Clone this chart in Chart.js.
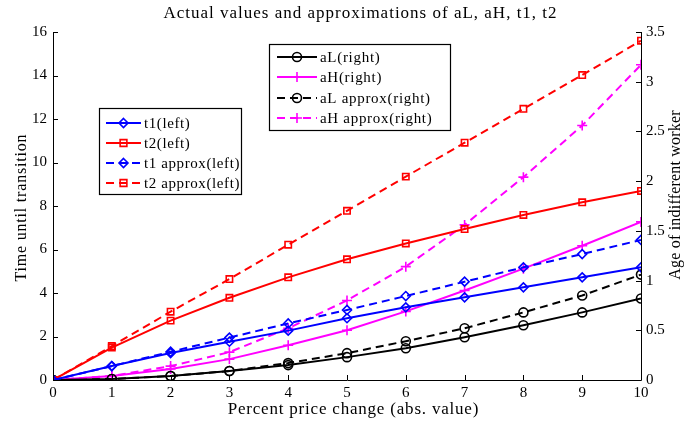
<!DOCTYPE html>
<html>
<head>
<meta charset="utf-8">
<script src="https://cdn.jsdelivr.net/npm/chart.js@4.4.1/dist/chart.umd.min.js"></script>
<style>
html,body{margin:0;padding:0;background:#fff;}
#wrap{width:685px;height:425px;}
</style>
</head>
<body>
<div id="wrap"><canvas id="c" width="685" height="425"></canvas></div>
<script>
const xValues = [0,1,2,3,4,5,6,7,8,9,10];
const t1 = [0,0.64,1.24,1.76,2.27,2.84,3.34,3.80,4.26,4.72,5.18];
const t2 = [0,1.49,2.73,3.78,4.72,5.55,6.28,6.94,7.59,8.17,8.69];
const t1Approx = [0,0.64,1.30,1.95,2.60,3.22,3.86,4.52,5.18,5.79,6.44];
const t2Approx = [0,1.56,3.14,4.64,6.22,7.78,9.35,10.91,12.47,14.02,15.60];
const aL = [0,0.01,0.04,0.09,0.15,0.23,0.32,0.43,0.55,0.68,0.82];
const aH = [0,0.04,0.11,0.21,0.35,0.50,0.69,0.90,1.12,1.35,1.59];
const aLApprox = [0,0.01,0.04,0.09,0.17,0.27,0.39,0.52,0.68,0.85,1.06];
const aHApprox = [0,0.04,0.14,0.28,0.52,0.80,1.14,1.56,2.04,2.56,3.17];

const titleText = 'Actual values and approximations of aL, aH, t1, t2';
const xTitle = 'Percent price change (abs. value)';
const yLeftTitle = 'Time until transition';
const yRightTitle = 'Age of indifferent worker';
const legendLeftLabels = ['t1(left)','t2(left)','t1 approx(left)','t2 approx(left)'];
const legendRightLabels = ['aL(right)','aH(right)','aL approx(right)','aH approx(right)'];

const SERIF = '"Liberation Serif", "Times New Roman", serif';
const DASH = [8,5];

function pts(arr){ return xValues.map((x,i)=>({x:x,y:arr[i]})); }
function ds(label, arr, color, style, dashed, axis){
  return {
    label: label, data: pts(arr), yAxisID: axis,
    borderColor: color, borderWidth: 2, borderDash: dashed ? DASH : [],
    pointStyle: style, pointRadius: style==='cross' ? 5 : 4.5,
    pointBorderColor: color, pointBackgroundColor: 'rgba(0,0,0,0)', pointBorderWidth: 1.6,
    tension: 0, fill: false
  };
}

const datasets = [
  ds(legendLeftLabels[0], t1, '#0000ff', 'rectRot', false, 'y'),
  ds(legendLeftLabels[1], t2, '#ff0000', 'rect', false, 'y'),
  ds(legendLeftLabels[2], t1Approx, '#0000ff', 'rectRot', true, 'y'),
  ds(legendLeftLabels[3], t2Approx, '#ff0000', 'rect', true, 'y'),
  ds(legendRightLabels[0], aL, '#000000', 'circle', false, 'y1'),
  ds(legendRightLabels[1], aH, '#ff00ff', 'cross', false, 'y1'),
  ds(legendRightLabels[2], aLApprox, '#000000', 'circle', true, 'y1'),
  ds(legendRightLabels[3], aHApprox, '#ff00ff', 'cross', true, 'y1')
];

function drawMarker(ctx, style, x, y, color){
  ctx.save();
  ctx.strokeStyle = color; ctx.lineWidth = 1.6; ctx.setLineDash([]);
  ctx.beginPath();
  const r = 4.5;
  if (style==='rectRot'){ ctx.moveTo(x,y-r); ctx.lineTo(x+r,y); ctx.lineTo(x,y+r); ctx.lineTo(x-r,y); ctx.closePath(); }
  else if (style==='rect'){ const h=r*0.75; ctx.rect(x-h,y-h,2*h,2*h); }
  else if (style==='circle'){ ctx.arc(x,y,r,0,Math.PI*2); }
  else if (style==='cross'){ ctx.moveTo(x-5,y); ctx.lineTo(x+5,y); ctx.moveTo(x,y-5); ctx.lineTo(x,y+5); }
  ctx.stroke();
  ctx.restore();
}

function setSpacing(ctx, px){ if ('letterSpacing' in ctx) ctx.letterSpacing = px + 'px'; }

function drawLegend(ctx, box, items, lineX0, lineX1, textX, rows, spacing){
  ctx.save();
  ctx.fillStyle = '#fff';
  ctx.fillRect(box.x, box.y, box.w, box.h);
  ctx.strokeStyle = '#000'; ctx.lineWidth = 1.2; ctx.setLineDash([]);
  ctx.strokeRect(box.x, box.y, box.w, box.h);
  items.forEach((d,i)=>{
    const y = rows[i];
    ctx.strokeStyle = d.borderColor; ctx.lineWidth = 2;
    ctx.setLineDash(d.borderDash.length ? DASH : []);
    ctx.beginPath(); ctx.moveTo(lineX0,y); ctx.lineTo(lineX1,y); ctx.stroke();
    drawMarker(ctx, d.pointStyle, (lineX0+lineX1)/2, y, d.borderColor);
    ctx.setLineDash([]);
    ctx.fillStyle = '#000';
    ctx.font = '15px ' + SERIF;
    setSpacing(ctx, spacing);
    ctx.textBaseline = 'middle'; ctx.textAlign = 'left';
    ctx.fillText(d.label, textX, y+1);
    setSpacing(ctx, 0);
  });
  ctx.restore();
}

const decor = {
  id: 'decor',
  afterDraw(chart){
    const ctx = chart.ctx;
    const a = chart.chartArea;
    const sx = chart.scales.x, sy = chart.scales.y, sy1 = chart.scales.y1;
    ctx.save();
    ctx.strokeStyle = '#000'; ctx.lineWidth = 1; ctx.setLineDash([]);
    ctx.beginPath();
    ctx.moveTo(a.left+0.5, a.top); ctx.lineTo(a.left+0.5, a.bottom+0.5);
    ctx.lineTo(a.right+0.5, a.bottom+0.5); ctx.lineTo(a.right+0.5, a.top);
    sx.ticks.forEach(t=>{ const p=Math.round(sx.getPixelForValue(t.value))+0.5; ctx.moveTo(p,a.bottom); ctx.lineTo(p,a.bottom-5); });
    sy.ticks.forEach(t=>{ const p=Math.round(sy.getPixelForValue(t.value))+0.5; ctx.moveTo(a.left,p); ctx.lineTo(a.left+5,p); });
    sy1.ticks.forEach(t=>{ const p=Math.round(sy1.getPixelForValue(t.value))+0.5; ctx.moveTo(a.right,p); ctx.lineTo(a.right-5,p); });
    ctx.stroke();

    ctx.fillStyle = '#000';
    ctx.textAlign = 'left'; ctx.textBaseline = 'alphabetic';
    function centered(text, cx, cy, font, spacing, rot){
      ctx.save();
      ctx.font = font + 'px ' + SERIF;
      setSpacing(ctx, spacing);
      const w = ctx.measureText(text).width - spacing;
      ctx.translate(cx, cy);
      if (rot) ctx.rotate(rot);
      ctx.fillText(text, -w/2, 0);
      ctx.restore();
    }
    centered(titleText, 360, 18, 17, 1, 0);
    centered(xTitle, 353, 414, 17, 0.8, 0);
    centered(yLeftTitle, 26, 208, 16, 0.8, -Math.PI/2);
    centered(yRightTitle, 680, 195, 16, 0.2, -Math.PI/2);
    ctx.restore();

    const ds = chart.data.datasets;
    drawLegend(ctx, {x:269.5,y:44.5,w:181,h:86}, ds.slice(4,8), 277, 317, 320, [57,77,98,118], 0.7);
    drawLegend(ctx, {x:99.5,y:108.5,w:142,h:86}, ds.slice(0,4), 106, 141, 144, [123,143,163,183], 0.6);
  }
};

const tickFont = {family: SERIF, size: 15};
const fmt = v => String(Math.round(v*10)/10);
new Chart(document.getElementById('c'), {
  type: 'line',
  data: { datasets: datasets },
  options: {
    responsive: false, animation: false, devicePixelRatio: 1,
    layout: { padding: { top: 32, left: 0, right: 0, bottom: 0 } },
    plugins: { legend: {display:false}, title:{display:false}, tooltip:{enabled:false} },
    scales: {
      x: { type:'linear', min:0, max:10,
        ticks:{ stepSize:1, font:tickFont, color:'#000', padding:4, maxRotation:0, autoSkip:false, callback: fmt },
        grid:{ display:false, drawTicks:false }, border:{display:false},
        afterFit(s){ s.height = 45; } },
      y: { position:'left', min:0, max:16,
        ticks:{ stepSize:2, font:tickFont, color:'#000', padding:6, callback: fmt },
        grid:{ display:false, drawTicks:false }, border:{display:false},
        afterFit(s){ s.width = 53; } },
      y1: { position:'right', min:0, max:3.5,
        ticks:{ stepSize:0.5, font:tickFont, color:'#000', padding:5, callback: fmt },
        grid:{ display:false, drawTicks:false }, border:{display:false},
        afterFit(s){ s.width = 44; } }
    }
  },
  plugins: [decor]
});
</script>
</body>
</html>
